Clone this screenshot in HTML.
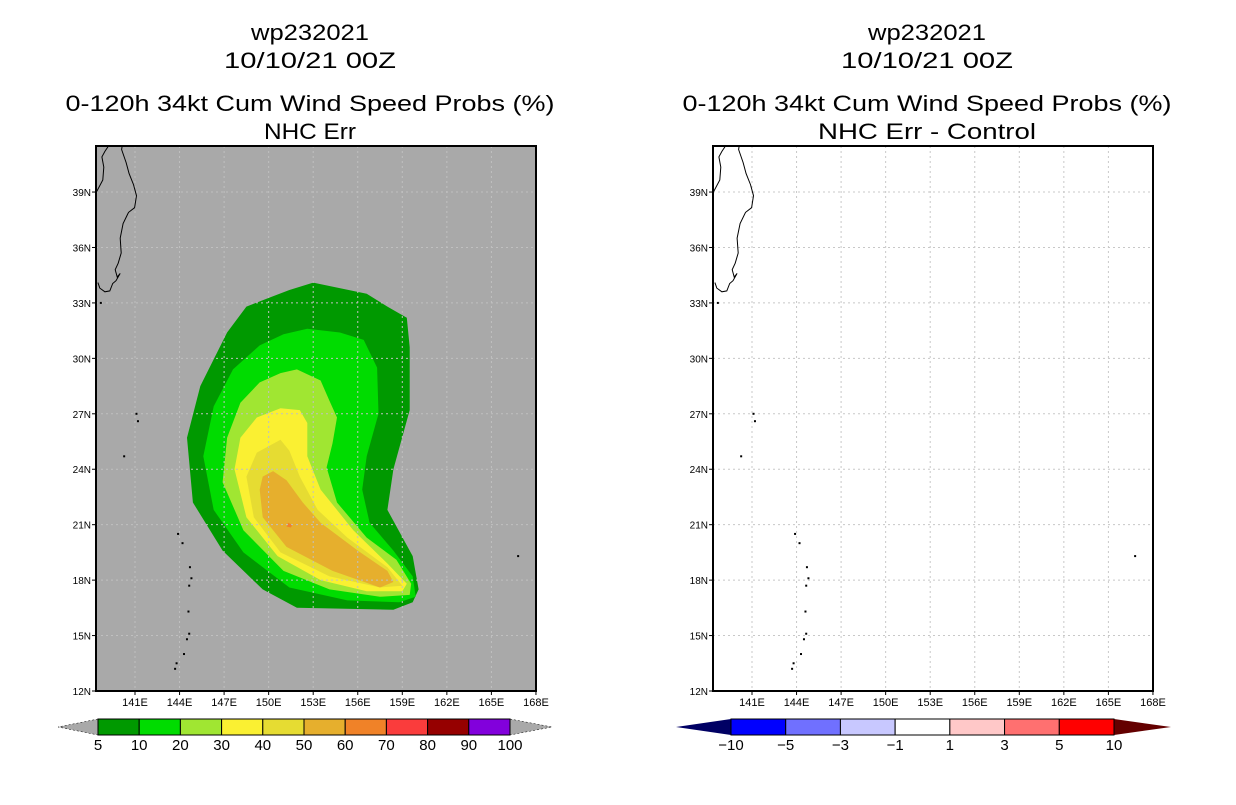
<!DOCTYPE html>
<html><head><meta charset="utf-8"><style>
body{margin:0;background:#fff;width:1236px;height:800px;overflow:hidden}
text{font-family:"Liberation Sans",sans-serif}
</style></head><body>
<svg id="svg" width="1236" height="800" xmlns="http://www.w3.org/2000/svg">
<defs><clipPath id="clip0"><rect x="96" y="146" width="440" height="545"/></clipPath><clipPath id="clip1"><rect x="713" y="146" width="440" height="545"/></clipPath></defs>
</svg>
<script>
const lonTicks=[141,144,147,150,153,156,159,162,165,168];
const latTicks=[12,15,18,21,24,27,30,33,36,39];
const probLevels=[5,10,20,30,40,50,60,70,80,90,100];
const probColors=['#009900','#00dc00','#a0e632','#faf032','#e6dc32','#e6af2d','#f08228','#fa3c3c','#960000','#8200dc'];
const diffLevels=['-10','-5','-3','-1','1','3','5','10'];
const diffColors=['#0000ff','#7070ff','#c8c8ff','#ffffff','#ffc8c8','#ff7070','#ff0000'];
const c5Lon=[153.0,156.6,158.0,159.3,159.5,159.5,158.4,158.0,159.7,160.1,159.7,158.4,151.9,149.6,146.9,144.9,144.5,145.4,147.2,148.5,150.1,151.4];
const c5Lat=[34.1,33.5,32.8,32.2,30.6,27.2,24.0,21.8,19.3,17.5,16.8,16.4,16.5,17.5,19.6,22.2,25.7,28.5,31.4,32.8,33.3,33.7];
const c10Lon=[152.6,154.8,156.4,157.3,157.4,156.6,156.3,156.8,158.4,159.7,159.9,158.8,155.3,151.4,148.3,146.3,145.6,146.3,147.6,149.4,151.0];
const c10Lat=[31.6,31.4,31.0,29.5,27.0,24.7,22.9,21.1,19.6,18.2,17.1,16.8,16.9,17.6,19.5,21.8,24.7,27.4,29.4,30.7,31.3];
const c20Lon=[151.9,153.5,154.1,154.6,154.3,153.9,154.6,156.6,158.6,159.6,159.5,157.5,154.1,151.0,148.3,146.9,147.2,148.1,149.4,150.8];
const c20Lat=[29.4,28.8,27.7,26.8,25.4,24.1,22.2,20.3,19.1,17.8,17.2,17.1,17.5,18.5,20.7,23.3,25.7,27.6,28.7,29.2];
const c30Lon=[150.8,152.1,152.6,152.6,153.5,155.7,158.0,159.3,159.0,156.6,153.5,150.6,148.5,147.7,148.1,149.2];
const c30Lat=[27.3,27.2,26.5,24.7,22.9,20.7,18.9,17.8,17.4,17.4,18.0,19.3,21.4,24.0,25.7,26.8];
const c40Lon=[150.8,151.4,152.1,153.3,155.3,158.0,159.0,157.5,154.1,150.8,149.0,148.5,149.2];
const c40Lat=[25.6,25.0,23.6,21.8,20.3,18.7,17.7,17.6,18.2,19.5,21.4,23.6,24.9];
const c50Lon=[150.3,151.2,152.3,153.5,156.0,158.0,158.4,157.5,154.3,151.2,149.6,149.4,149.6];
const c50Lat=[23.9,23.4,22.2,21.1,19.6,18.5,17.9,17.6,18.5,19.8,21.4,22.9,23.6];
const c60Lon=[151.3,151.6,151.5,151.2];
const c60Lat=[21.1,21.0,20.85,20.9];
const coastLon=[138.37,138.83,138.9,138.77,138.97,139.3,139.44,139.6,139.9,140.2,140.1,140.4,140.6,140.9,141.1,140.97,140.56,140.2,140.0,140.07,139.87,139.67,139.8,140.0,139.72,139.5,139.3,138.97,138.63,138.5];
const coastLat=[38.95,39.65,40.35,40.9,41.2,41.6,41.9,41.7,41.9,41.8,41.3,40.6,40.0,39.4,38.8,38.15,37.9,37.3,36.5,35.7,35.15,34.8,34.4,34.6,34.2,34.05,33.65,33.6,33.8,34.1];
const islLon=[138.7,141.1,141.2,140.27,143.9,144.2,144.7,144.8,144.65,144.6,144.65,144.5,144.3,143.8,143.7,166.8];
const islLat=[33.0,27.0,26.6,24.7,20.5,20.0,18.7,18.1,17.7,16.3,15.1,14.8,14.0,13.5,13.2,19.3];

const svg=document.getElementById('svg');
const NS='http://www.w3.org/2000/svg';
function mk(tag,attrs,parent){const e=document.createElementNS(NS,tag);for(const k in attrs)e.setAttribute(k,attrs[k]);(parent||svg).appendChild(e);return e;}
const X0=[96,713],W=440,Y0=146,H=545;
function xs(p,lon){return X0[p]+135-96+(lon-141)*14.85;}
function ys(lat){return 691-(lat-12)*18.48;}
function txt(x,y,s,size,anchor,len,name){const t=mk('text',{x:x,y:y,'font-size':size,'text-anchor':anchor||'middle',fill:'#000'});if(len){t.setAttribute('textLength',len);t.setAttribute('lengthAdjust','spacingAndGlyphs');}t.textContent=s;


return t;}
function poly(p,lons,lats,fill,name){const pts=lons.map((l,i)=>xs(p,l).toFixed(1)+','+ys(lats[i]).toFixed(1)).join(' ');const e=mk('polygon',{points:pts,fill:fill});


return e;}

const titles=[['wp232021','10/10/21 00Z','0-120h 34kt Cum Wind Speed Probs (%)','NHC Err'],['wp232021','10/10/21 00Z','0-120h 34kt Cum Wind Speed Probs (%)','NHC Err - Control']];
const tcx=[310,927];
for(let p=0;p<2;p++){
  const t=titles[p];
  txt(tcx[p],40,t[0],22,'middle',118,'title-storm-id');
  txt(tcx[p],68,t[1],22,'middle',172,'title-date');
  txt(tcx[p],111,t[2],22,'middle',489,'title-product');
  txt(tcx[p],139,t[3],22,'middle',p?218:92,'title-subtitle');
  const bg=mk('rect',{x:X0[p],y:Y0,width:W,height:H,fill:p?'#fff':'#a9a9a9'});
  
  
  if(p===0){
    poly(0,c5Lon,c5Lat,probColors[0],'contour-5');
    poly(0,c10Lon,c10Lat,probColors[1],'contour-10');
    poly(0,c20Lon,c20Lat,probColors[2],'contour-20');
    poly(0,c30Lon,c30Lat,probColors[3],'contour-30');
    poly(0,c40Lon,c40Lat,probColors[4],'contour-40');
    poly(0,c50Lon,c50Lat,probColors[5],'contour-50');
    poly(0,c60Lon,c60Lat,probColors[6],'contour-60');
  }
  lonTicks.slice(0,-1).forEach(l=>{const g=mk('line',{x1:xs(p,l),x2:xs(p,l),y1:Y0,y2:Y0+H,stroke:p?'#c8c8c8':'#c0c0c0','stroke-width':1,'stroke-dasharray':'2,3'});
    
    });
  latTicks.slice(1).forEach(l=>{const g=mk('line',{x1:X0[p],x2:X0[p]+W,y1:ys(l),y2:ys(l),stroke:p?'#c8c8c8':'#c0c0c0','stroke-width':1,'stroke-dasharray':'2,3'});
    
    });
  const cp=coastLon.map((l,i)=>xs(p,l).toFixed(1)+','+ys(coastLat[i]).toFixed(1)).join(' ');
  const co=mk('polyline',{points:cp,fill:'none',stroke:'#000','stroke-width':1,'clip-path':'url(#clip'+p+')'});
  
  
  islLon.forEach((l,i)=>{const d=mk('rect',{x:xs(p,l)-1,y:ys(islLat[i])-1,width:2,height:2,fill:'#000'});
    
    });
  const fr=mk('rect',{x:X0[p],y:Y0,width:W,height:H,fill:'none',stroke:'#000','stroke-width':2});
  
  
  lonTicks.forEach(l=>{const x=xs(p,l);mk('line',{x1:x,x2:x,y1:Y0+H,y2:Y0+H+4,stroke:'#000'});txt(x,Y0+H+15,l+'E',11,'middle',null,'lon-tick-label');});
  latTicks.forEach(l=>{const y=ys(l);mk('line',{x1:X0[p]-4,x2:X0[p],y1:y,y2:y,stroke:'#000'});txt(X0[p]-5,y+4,l+'N',10,'end',null,'lat-tick-label');});
}
{const x0=98,x1=510,y=719,h=16,n=probColors.length,w=(x1-x0)/n;
 const la=mk('polygon',{points:`${x0},${y} 58,${y+h/2} ${x0},${y+h}`,fill:'#a9a9a9',stroke:'#000','stroke-width':0.5,'stroke-dasharray':'2,2'});
 
 
 const ra=mk('polygon',{points:`${x1},${y} 552,${y+h/2} ${x1},${y+h}`,fill:'#a9a9a9',stroke:'#000','stroke-width':0.5,'stroke-dasharray':'2,2'});
 
 
 probColors.forEach((c,i)=>{const r=mk('rect',{x:x0+i*w,y:y,width:w,height:h,fill:c,stroke:'#000','stroke-width':1});
  
  });
 probLevels.forEach((v,i)=>txt(x0+i*w,y+h+15,String(v),15,'middle',null,'colorbar-label'));
}
{const x0=731,x1=1114,y=719,h=16,n=diffColors.length,w=(x1-x0)/n;
 const la=mk('polygon',{points:`${x0},${y} 676,${y+h/2} ${x0},${y+h}`,fill:'#000064'});
 
 
 const ra=mk('polygon',{points:`${x1},${y} 1171,${y+h/2} ${x1},${y+h}`,fill:'#640000'});
 
 
 diffColors.forEach((c,i)=>{const r=mk('rect',{x:x0+i*w,y:y,width:w,height:h,fill:c,stroke:'#000','stroke-width':1});
  
  });
 diffLevels.forEach((v,i)=>txt(x0+i*w,y+h+15,v.replace('-','\u2212'),15,'middle',null,'colorbar-label'));
}
</script>
</body></html>
